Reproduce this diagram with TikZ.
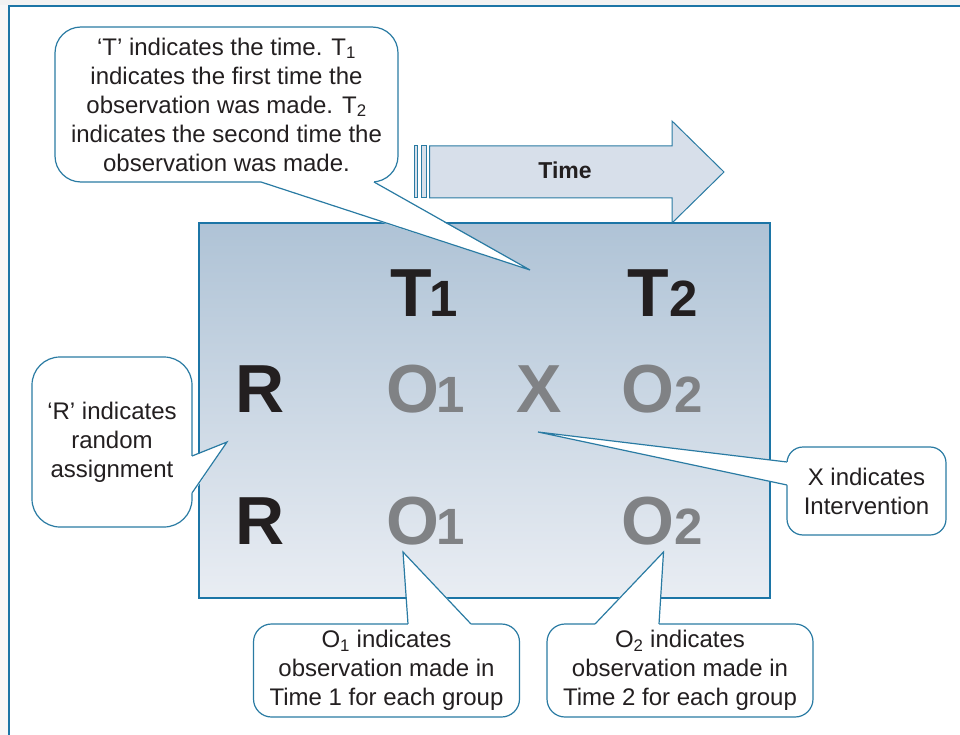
\documentclass[tikz,border=0pt]{standalone}
\usepackage{fontspec}
\setmainfont{Liberation Sans}
\definecolor{frameblue}{HTML}{1C75A6}
\definecolor{lineblue}{HTML}{2A7BA3}
\definecolor{boxtop}{HTML}{AFC3D6}
\definecolor{boxbot}{HTML}{E9EDF3}
\definecolor{arrowfill}{HTML}{D7DFEA}
\definecolor{ink}{HTML}{231F20}
\definecolor{grayletter}{HTML}{808285}
\tikzset{
  callout/.style={draw=lineblue, line width=1.2pt, fill=white, rounded corners=#1,
    inner sep=0pt, align=center, font=\fontsize{24}{29}\selectfont, text=ink},
  ptr/.style={draw=lineblue, line width=1.2pt, line join=miter},
  bigblack/.style={font=\fontsize{68}{68}\selectfont\bfseries, text=ink, anchor=base west, inner sep=0pt},
  biggray/.style={font=\fontsize{68}{68}\selectfont\bfseries, text=grayletter, anchor=base west, inner sep=0pt},
}
\newcommand{\smalldigit}[1]{{\fontsize{51}{51}\selectfont #1}}
\newcommand{\smallone}{{\kern-2.5pt\fontsize{51}{51}\selectfont 1}}
\begin{document}
\begin{tikzpicture}[x=1pt, y=-1pt]
\useasboundingbox (0,0) rectangle (960,735);
\fill[white] (0,0) rectangle (960,735);
\fill[black!5] (0,0) rectangle (960,5);
\fill[black!3] (0,5) rectangle (8,735);
% outer frame
\draw[frameblue, line width=1.8pt] (9,740) -- (9,6) -- (965,6);

% main box
\shade[top color=boxtop, bottom color=boxbot] (199,223) rectangle (770,598);
\draw[frameblue, line width=1.4pt] (199,223) rectangle (770,598);

% letters
\node[bigblack] (t1) at (390.5,316) {T\smallone};
\node[bigblack] (t2) at (627.5,316) {T\smalldigit{2}};
\node[bigblack] (r1) at (235,412) {R};
\node[biggray] (o11) at (386,412) {O\smallone};
\node[biggray] (x) at (516.5,412) {X};
\node[biggray] (o21) at (621.5,412) {O\smalldigit{2}};
\node[bigblack] (r2) at (235,544) {R};
\node[biggray] (o12) at (386,544) {O\smallone};
\node[biggray] (o22) at (621.5,544) {O\smalldigit{2}};

% time arrow
\filldraw[fill=arrowfill, draw=lineblue, line width=1pt] (414,146) rectangle (417.5,198);
\filldraw[fill=arrowfill, draw=lineblue, line width=1pt] (421,146) rectangle (426,198);
\filldraw[fill=arrowfill, draw=lineblue, line width=1pt, line join=miter]
  (429.5,146) -- (672,146) -- (672,121) -- (724,172) -- (672,223) -- (672,198) -- (429.5,198) -- cycle;
\node[font=\fontsize{23}{23}\selectfont\bfseries, text=ink, anchor=base, inner sep=0pt] (time) at (565,179) {Time};

% callouts
\node[callout=26pt, minimum width=343pt, minimum height=155pt] (ct) at (226.5,104.5)
  {‘T’ indicates the time. T\textsubscript{1}\\ indicates the first time the\\ observation was made. T\textsubscript{2}\\ indicates the second time the\\ observation was made.};
\node[callout=28pt, minimum width=160pt, minimum height=170pt] (cr) at (112,442)
  {‘R’ indicates\\ random\\ assignment};
\node[callout=16pt, minimum width=159pt, minimum height=88pt] (cx) at (866.5,491)
  {X indicates\\ Intervention};
\node[callout=18pt, minimum width=266pt, minimum height=93pt] (co1) at (386.5,670.5)
  {O\textsubscript{1} indicates\\ observation made in\\ Time 1 for each group};
\node[callout=18pt, minimum width=266pt, minimum height=93pt] (co2) at (680,670.5)
  {O\textsubscript{2} indicates\\ observation made in\\ Time 2 for each group};

% pointer tips
\coordinate (tipT) at (530,270);
\coordinate (tipR) at (227,442);
\coordinate (tipX) at (538,432);
\coordinate (tipO1) at (403,552);
\coordinate (tipO2) at (663.5,552);

% top pointer
\fill[white] (261,179) -- (261,183.5) -- (tipT) -- (374,183.5) -- (374,179) -- cycle;
\draw[ptr] (261,182) -- (tipT) -- (374,182);
% R pointer
\fill[white] (189,456) -- (193.5,456) -- (tipR) -- (193.5,493) -- (189,493) -- cycle;
\draw[ptr] (192,456) -- (tipR) -- (192,493);
% X pointer
\fill[white] (790,462) -- (785.5,462) -- (tipX) -- (785.5,485) -- (790,485) -- cycle;
\draw[ptr] (787,462) -- (tipX) -- (787,485);
% O1 pointer
\fill[white] (408,627) -- (408,622.5) -- (tipO1) -- (471,622.5) -- (471,627) -- cycle;
\draw[ptr] (408,624) -- (tipO1) -- (471,624);
% O2 pointer
\fill[white] (595,627) -- (595,622.5) -- (tipO2) -- (659,622.5) -- (659,627) -- cycle;
\draw[ptr] (595,624) -- (tipO2) -- (659,624);
\end{tikzpicture}
\end{document}
